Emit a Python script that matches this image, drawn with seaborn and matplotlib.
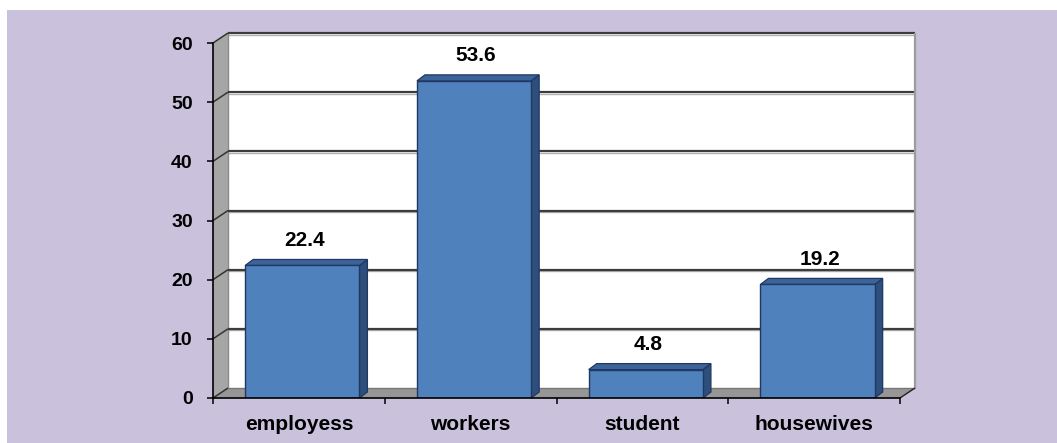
import numpy as np
import pandas as pd
import matplotlib
matplotlib.use("Agg")
import matplotlib.pyplot as plt
import seaborn as sns
from matplotlib.patches import Polygon, Rectangle
from matplotlib.lines import Line2D
from matplotlib.transforms import IdentityTransform

# ---- data ----
categories = ["employess", "workers", "student", "housewives"]
values = [22.4, 53.6, 4.8, 19.2]
yticks = [0, 10, 20, 30, 40, 50, 60]

# ---- style ----
LAV = "#CAC1DC"
FRONT = "#4F81BD"
SIDE = "#2E4F7C"
TOP = "#3D6499"
EDGE = "#1F3864"

sns.set_theme(style="white")
plt.rcParams["font.family"] = ["Liberation Sans", "DejaVu Sans"]
plt.rcParams["text.color"] = "black"
plt.rcParams["xtick.color"] = "black"
plt.rcParams["ytick.color"] = "black"

W, H = 1057, 443
fig = plt.figure(figsize=(W / 100, H / 100), dpi=100)
fig.patch.set_facecolor("white")
fig.patches.append(Rectangle((7 / W, 0), 1 - 7 / W, 433 / H, transform=fig.transFigure,
                             facecolor=LAV, edgecolor="none", zorder=-10))

ax = fig.add_axes([213 / W, 45 / H, 687 / W, 355 / H])
df = pd.DataFrame({"cat": categories, "val": values})
sns.barplot(data=df, x="cat", y="val", ax=ax, color=FRONT, width=0.665, saturation=1,
            edgecolor=EDGE, linewidth=1.0, zorder=5)
bars = list(ax.patches)
for p in bars:
    p.set_x(p.get_x() + 0.02)
ax.set_xlim(-0.5, 3.5)
ax.set_ylim(0, 60)
ax.set_facecolor("none")
ax.set_xlabel("")
ax.set_ylabel("")
for s in ["top", "right"]:
    ax.spines[s].set_visible(False)
for s in ["left", "bottom"]:
    ax.spines[s].set_color("black")
    ax.spines[s].set_linewidth(1.2)
    ax.spines[s].set_zorder(6)

ax.set_yticks(yticks)
ax.set_yticklabels([str(t) for t in yticks], fontsize=14, fontweight="bold", color="black")
ax.tick_params(axis="y", which="major", length=4.5, width=1.1, color="black", pad=10,
               left=True, direction="out", labelcolor="black")
ax.set_xticks(range(len(categories)))
ax.set_xticklabels(categories, fontsize=15, fontweight="bold", color="black")
ax.set_xticks(np.arange(-0.5, len(categories), 1.0), minor=True)
ax.tick_params(axis="x", which="major", length=0, pad=12, labelcolor="black")
ax.tick_params(axis="x", which="minor", length=4.5, width=1.1, color="black",
               bottom=True, direction="out")

ident = IdentityTransform()


def D(x, y):
    return ax.transData.transform((x, y))


WDX, WDY = 15, 10
x0d, y0d = D(-0.5, 0)
x1d, y1d = D(3.5, 60)


def poly(pts, fc, ec="none", lw=0, z=1):
    p = Polygon(pts, closed=True, facecolor=fc, edgecolor=ec, linewidth=lw,
                transform=ident, clip_on=False, zorder=z)
    ax.add_artist(p)
    return p


def line(xs, ys, c, lw, z=2):
    l = Line2D(xs, ys, color=c, linewidth=lw, transform=ident, clip_on=False, zorder=z,
               solid_capstyle="butt")
    ax.add_artist(l)


# back wall
poly([(x0d + WDX, y0d + WDY), (x1d + WDX, y0d + WDY), (x1d + WDX, y1d + WDY),
      (x0d + WDX, y1d + WDY)], "white", z=0.5)
# left wall
poly([(x0d, y0d), (x0d, y1d), (x0d + WDX, y1d + WDY), (x0d + WDX, y0d + WDY)], "#A6A6A6", z=0.6)
# floor
poly([(x0d, y0d), (x1d, y0d), (x1d + WDX, y0d + WDY), (x0d + WDX, y0d + WDY)], "#969696", z=0.7)

# gridlines on back wall and left wall
for t in yticks:
    yd = D(0, t)[1]
    if t == 0:
        line([x0d + WDX, x1d + WDX], [yd + WDY, yd + WDY], "#777777", 1.0, z=0.8)
    else:
        line([x0d + WDX, x1d + WDX], [yd + WDY - 1.6, yd + WDY - 1.6], "#B0B0B0", 1.0, z=0.8)
        line([x0d + WDX, x1d + WDX], [yd + WDY, yd + WDY], "#3C3C3C", 1.6, z=0.9)
    line([x0d, x0d + WDX], [yd, yd + WDY], "#333333", 1.1, z=0.9)

# back-right edge and floor right edge
line([x1d + WDX, x1d + WDX], [y0d + WDY, y1d + WDY], "#9C9C9C", 1.6, z=0.9)
line([x1d, x1d + WDX], [y0d, y0d + WDY], "#222222", 1.0, z=0.9)
line([x0d + WDX, x0d + WDX], [y0d + WDY, y1d + WDY], "#8A8A8A", 1.0, z=0.85)

# 3D bars
BDX, BDY = 8, 6
for p in bars:
    x, w, h = p.get_x(), p.get_width(), p.get_height()
    bl, br = D(x, 0), D(x + w, 0)
    tl, tr = D(x, h), D(x + w, h)
    poly([br, tr, (tr[0] + BDX, tr[1] + BDY), (br[0] + BDX, br[1] + BDY)], SIDE, EDGE, 0.9, z=4)
    poly([tl, tr, (tr[0] + BDX, tr[1] + BDY), (tl[0] + BDX, tl[1] + BDY)], TOP, EDGE, 0.9, z=4)

# value labels
for i, v in enumerate(values):
    ax.annotate(f"{v}", (i, v), xytext=(4, 14), textcoords="offset points",
                ha="center", va="baseline", fontsize=15, fontweight="bold", color="black",
                zorder=7)

fig.savefig("out.png", dpi=100)
